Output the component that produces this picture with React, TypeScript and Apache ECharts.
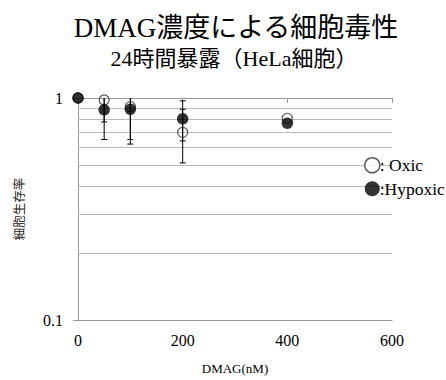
import React, { useEffect, useRef } from "react";
import * as echarts from "echarts";

const doses = [0, 50, 100, 200, 400];
const oxic = [1.0, 0.98, 0.915, 0.7, 0.81];
const oxicErr = [0, 0.2, 0.265, 0.19, 0];
const hypoxic = [1.0, 0.885, 0.89, 0.806, 0.77];
const hypoxicErr = [0, 0.235, 0.27, 0.165, 0];
const gridValues = [0.2, 0.3, 0.4, 0.5, 0.6, 0.7, 0.8, 0.9];
const titleText = "DMAG濃度による細胞毒性";
const subtitleText = "24時間暴露（HeLa細胞）";

const SERIF = "'Liberation Serif', 'Noto Sans CJK JP', serif";

function errData(vals: number[], errs: number[]) {
  const out: number[][] = [];
  doses.forEach((d, i) => {
    if (errs[i] > 0) out.push([d, vals[i] - errs[i], vals[i] + errs[i]]);
  });
  return out;
}

export default function App() {
  const ref = useRef<HTMLDivElement>(null);
  useEffect(() => {
    if (!ref.current) return;
    const chart = echarts.init(ref.current, undefined, { renderer: "svg" });
    const renderErr = (params: any, api: any) => {
      const x = api.value(0);
      const lo = api.value(1);
      const hi = api.value(2);
      const top = api.coord([x, hi]);
      const bot = api.coord([x, lo]);
      const style = { stroke: "#000", lineWidth: 1 };
      return {
        type: "group",
        children: [
          { type: "line", shape: { x1: top[0], y1: top[1], x2: bot[0], y2: bot[1] }, style },
          { type: "line", shape: { x1: top[0] - 3, y1: top[1], x2: top[0] + 3, y2: top[1] }, style },
          { type: "line", shape: { x1: bot[0] - 3, y1: bot[1], x2: bot[0] + 3, y2: bot[1] }, style },
        ],
      };
    };
    chart.setOption({
      animation: false,
      title: [
        {
          text: titleText,
          left: 231,
          top: 9,
          textAlign: "center",
          textStyle: { fontFamily: SERIF, fontSize: 27, fontWeight: "normal", color: "#000" },
        },
        {
          text: subtitleText,
          left: 229,
          top: 42,
          textAlign: "center",
          textStyle: { fontFamily: SERIF, fontSize: 22, fontWeight: "normal", color: "#000" },
        },
      ],
      legend: {
        orient: "vertical",
        left: 364,
        top: 156.5,
        padding: 0,
        itemWidth: 15,
        itemHeight: 15,
        itemGap: 6,
        icon: "circle",
        textStyle: { fontFamily: SERIF, fontSize: 17.5, color: "#000", padding: [0, 0, 0, -5] },
        formatter: (n: string) => (n === "Oxic" ? ": Oxic" : ":Hypoxic"),
        data: [
          { name: "Oxic", itemStyle: { color: "#fff", borderColor: "#333", borderWidth: 1.5 } },
          { name: "Hypoxic", itemStyle: { color: "#000" } },
        ],
      },
      grid: { left: 78, right: 54, top: 98, bottom: 54 },
      xAxis: [
        {
          type: "value",
          min: 0,
          max: 600,
          interval: 200,
          position: "bottom",
          name: "DMAG(nM)",
          nameLocation: "middle",
          nameGap: 42,
          nameTextStyle: { fontFamily: SERIF, fontSize: 13, color: "#000" },
          axisLine: { show: true, onZero: false, lineStyle: { color: "#999", width: 1 } },
          axisTick: { show: false },
          splitLine: { show: false },
          axisLabel: { fontFamily: SERIF, fontSize: 16, color: "#000", margin: 12 },
        },
        {
          type: "value",
          min: 0,
          max: 600,
          interval: 200,
          position: "top",
          axisLine: { show: true, onZero: false, lineStyle: { color: "#999", width: 1 } },
          axisTick: { show: true, inside: true, length: 5, lineStyle: { color: "#999" } },
          axisLabel: { show: false },
          splitLine: { show: false },
        },
      ],
      yAxis: {
        type: "log",
        logBase: 10,
        min: 0.1,
        max: 1,
        name: "細胞生存率",
        nameLocation: "middle",
        nameRotate: 90,
        nameGap: 53,
        nameTextStyle: { fontFamily: "'Noto Sans CJK JP', sans-serif", fontSize: 12.5, color: "#222" },
        axisLine: { show: true, lineStyle: { color: "#999", width: 1 } },
        axisTick: { show: true, length: 5, lineStyle: { color: "#999" } },
        splitLine: { show: true, lineStyle: { color: "#bbb", width: 1 } },
        axisLabel: {
          fontFamily: SERIF,
          fontSize: 16,
          color: "#000",
          margin: 15,
          formatter: (v: number) => (v >= 1 ? "1" : "0.1"),
        },
      },
      series: [
        {
          type: "custom",
          name: "errOxic",
          renderItem: renderErr,
          data: errData(oxic, oxicErr),
          encode: { x: 0, y: [1, 2] },
          clip: true,
          z: 2,
          silent: true,
        },
        {
          type: "custom",
          name: "errHypoxic",
          renderItem: renderErr,
          data: errData(hypoxic, hypoxicErr),
          encode: { x: 0, y: [1, 2] },
          clip: true,
          z: 2,
          silent: true,
        },
        {
          type: "scatter",
          name: "Oxic",
          data: doses.map((d, i) => [d, oxic[i]]),
          symbol: "circle",
          symbolSize: 10,
          clip: false,
          z: 3,
          itemStyle: { color: "rgba(255,255,255,0)", borderColor: "#333", borderWidth: 1.2 },
          markLine: {
            silent: true,
            symbol: "none",
            label: { show: false },
            lineStyle: { color: "#bbb", type: "solid", width: 1 },
            data: gridValues.map((v) => ({ yAxis: v })),
            z: 1,
          },
        },
        {
          type: "scatter",
          name: "Hypoxic",
          data: doses.map((d, i) => [d, hypoxic[i]]),
          symbol: "circle",
          symbolSize: 11.5,
          clip: false,
          z: 4,
          itemStyle: { color: "#000" },
        },
      ],
    });
    return () => chart.dispose();
  }, []);
  return (
    <div
      ref={ref}
      style={{ width: 446, height: 380, position: "absolute", left: 0, top: 0 }}
    />
  );
}
